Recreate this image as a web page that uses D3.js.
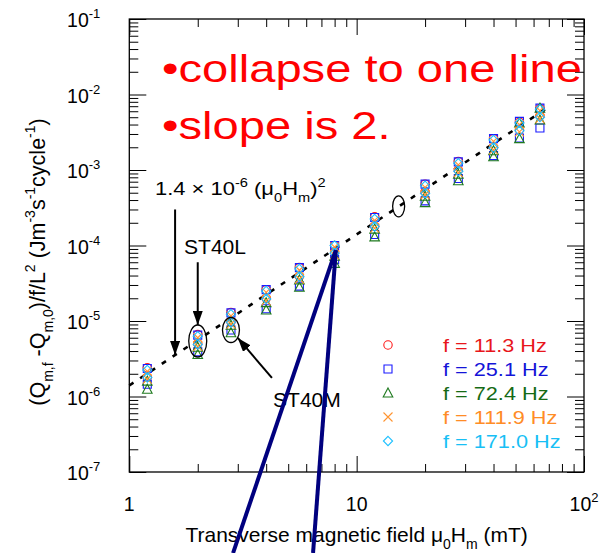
<!DOCTYPE html>
<html>
  <head>
    <meta charset="utf-8">
    <title>Loss collapse</title>
    <script src="https://d3js.org/d3.v7.min.js"></script>
    <style>
      body { margin: 0; background: #fff; }
      svg { font-family: "Liberation Sans", Arial, sans-serif; }
    </style>
  </head>
  <body>
    <div class="chart"></div>
    <script>
      /*
       * data
       */
      var fieldMT = [1.2, 2, 2.8, 4, 5.6, 8, 12, 20, 28, 40, 52, 64];

      // two samples per frequency (upper / lower point in each column)
      var f113 = [
        [2.4e-6, 6.6e-6, 1.3e-5, 2.6e-5, 5.1e-5, 1.0e-4, 2.4e-4, 6.5e-4, 1.3e-3, 2.6e-3, 4.3e-3, 6.5e-3],
        [1.8e-6, 5.0e-6, 9.8e-6, 2.0e-5, 3.9e-5, 8.2e-5, 1.8e-4, 5.1e-4, 1.0e-3, 2.0e-3, 3.4e-3, 5.2e-3]
      ];
      var f251 = [
        [2.35e-6, 6.5e-6, 1.28e-5, 2.6e-5, 5.1e-5, 1.0e-4, 2.35e-4, 6.5e-4, 1.28e-3, 2.6e-3, 4.4e-3, 6.6e-3],
        [1.45e-6, 3.9e-6, 7.6e-6, 1.45e-5, 2.9e-5, 6.5e-5, 1.4e-4, 3.9e-4, 7.7e-4, 1.55e-3, 2.65e-3, 3.6e-3]
      ];
      var f724 = [
        [1.6e-6, 4.5e-6, 8.8e-6, 1.75e-5, 3.5e-5, 7.2e-5, 1.65e-4, 4.5e-4, 8.8e-4, 1.8e-3, 4.2e-3, 6.6e-3],
        [1.25e-6, 3.6e-6, 7.0e-6, 1.4e-5, 2.8e-5, 5.8e-5, 1.3e-4, 3.7e-4, 7.2e-4, 1.5e-3, 2.6e-3, 4.6e-3]
      ];
      var f1119 = [
        [2.15e-6, 6.0e-6, 1.17e-5, 2.4e-5, 4.7e-5, 9.5e-5, 2.15e-4, 5.9e-4, 1.17e-3, 2.4e-3, 4.0e-3, 6.1e-3],
        [1.7e-6, 4.6e-6, 9.1e-6, 1.85e-5, 3.6e-5, 7.5e-5, 1.7e-4, 4.7e-4, 9.2e-4, 1.85e-3, 3.2e-3, 4.8e-3]
      ];
      var f1710 = [
        [2.25e-6, 6.3e-6, 1.23e-5, 2.5e-5, 4.9e-5, 1.0e-4, 2.25e-4, 6.2e-4, 1.23e-3, 2.5e-3, 4.2e-3, 6.4e-3],
        [1.78e-6, 4.9e-6, 9.6e-6, 1.95e-5, 3.85e-5, 7.9e-5, 1.78e-4, 4.9e-4, 9.6e-4, 1.97e-3, 3.3e-3, 5.0e-3]
      ];

      var legendLabels = ["f = 11.3 Hz", "f = 25.1 Hz", "f = 72.4 Hz", "f = 111.9 Hz", "f = 171.0 Hz"];

      // fit line 1.4e-6 * H^2
      var fitCoef = 1.4e-6;
      var fitRange = [1, 69];

      var xTickLabels = [{v: 1, base: "1", exp: ""}, {v: 10, base: "10", exp: ""}, {v: 100, base: "10", exp: "2"}];
      var yTickExps = ["-7", "-6", "-5", "-4", "-3", "-2", "-1"];

      /*
       * layout
       */
      var width = 605, height = 553;
      var mLeft = 129.3, mRight = 584, mTop = 19, mBottom = 472;

      var x = d3.scaleLog().domain([1, 100]).range([mLeft, mRight]);
      var y = d3.scaleLog().domain([1e-7, 1e-1]).range([mBottom, mTop]);

      var svg = d3.select(".chart").append("svg")
        .attr("width", width)
        .attr("height", height);

      function isMajor(d) {
        return Math.abs(Math.log10(d) - Math.round(Math.log10(d))) < 1e-6;
      }

      // stretch a text horizontally around its own anchor point
      function stretch(sel, k, ax, ay) {
        sel.attr("transform", "translate(" + ax + "," + ay + ") scale(" + k + ",1) translate(" + (-ax) + "," + (-ay) + ")");
        return sel;
      }

      // frame + inward ticks on all four sides
      svg.append("rect")
        .attr("x", mLeft).attr("y", mTop)
        .attr("width", mRight - mLeft).attr("height", mBottom - mTop)
        .attr("fill", "none").attr("stroke", "#000").attr("stroke-width", 1.3);

      var xt = x.ticks(), yt = y.ticks();

      svg.append("g").attr("transform", "translate(0," + mBottom + ")")
        .call(d3.axisBottom(x).tickValues(xt).tickFormat("").tickSizeOuter(0))
        .call(g => g.select(".domain").remove())
        .call(g => g.selectAll(".tick line").attr("y2", d => isMajor(d) ? -16 : -8));
      svg.append("g").attr("transform", "translate(0," + mTop + ")")
        .call(d3.axisTop(x).tickValues(xt).tickFormat("").tickSizeOuter(0))
        .call(g => g.select(".domain").remove())
        .call(g => g.selectAll(".tick line").attr("y2", d => isMajor(d) ? 16 : 8));
      svg.append("g").attr("transform", "translate(" + mLeft + ",0)")
        .call(d3.axisLeft(y).tickValues(yt).tickFormat("").tickSizeOuter(0))
        .call(g => g.select(".domain").remove())
        .call(g => g.selectAll(".tick line").attr("x2", d => isMajor(d) ? 17 : 9));
      svg.append("g").attr("transform", "translate(" + mRight + ",0)")
        .call(d3.axisRight(y).tickValues(yt).tickFormat("").tickSizeOuter(0))
        .call(g => g.select(".domain").remove())
        .call(g => g.selectAll(".tick line").attr("x2", d => isMajor(d) ? -17 : -9));

      // tick labels
      var xl = svg.append("g").attr("font-size", 19.5).attr("text-anchor", "middle");
      xTickLabels.forEach(function(t) {
        var tx = xl.append("text").attr("x", x(t.v)).attr("y", mBottom + 39);
        tx.append("tspan").text(t.base);
        if (t.exp) tx.append("tspan").attr("font-size", 13).attr("dy", -9).text(t.exp);
      });

      var yl = svg.append("g").attr("font-size", 19.5).attr("text-anchor", "end");
      yTickExps.forEach(function(e) {
        var ty = yl.append("text").attr("x", mLeft - 29).attr("y", y(Math.pow(10, +e)) + 8);
        ty.append("tspan").text("10");
        ty.append("tspan").attr("font-size", 13).attr("dy", -9).text(e);
      });

      // axis titles
      var xtitle = svg.append("text")
        .attr("x", x(10)).attr("y", 542)
        .attr("text-anchor", "middle").attr("font-size", 21);
      xtitle.append("tspan").text("Transverse magnetic field \u03bc");
      xtitle.append("tspan").attr("font-size", 14).attr("dy", 7).text("0");
      xtitle.append("tspan").attr("dy", -7).text("H");
      xtitle.append("tspan").attr("font-size", 14).attr("dy", 7).text("m");
      xtitle.append("tspan").attr("dy", -7).text(" (mT)");

      var ytitle = svg.append("text")
        .attr("transform", "translate(45,262) rotate(-90)")
        .attr("text-anchor", "middle").attr("font-size", 21.5);
      var yparts = [
        ["(Q", 0], ["m,f", 1], [" -Q", 0], ["m,0", 1], [")/f/L", 0], ["2", -1],
        [" (Jm", 0], ["-3", -1], ["s", 0], ["-1", -1], ["cycle", 0], ["-1", -1], [")", 0]
      ];
      var prev = 0;
      yparts.forEach(function(p) {
        var shift = p[1] === 1 ? 8 : p[1] === -1 ? -10 : 0;
        ytitle.append("tspan")
          .attr("dy", shift - prev)
          .attr("font-size", p[1] === 0 ? 21.5 : 14)
          .text(p[0]);
        prev = shift;
      });

      // fit line
      var fitLine = d3.line()
        .x(d => x(d))
        .y(d => y(fitCoef * d * d));
      svg.append("path")
        .datum(fitRange)
        .attr("d", fitLine)
        .attr("fill", "none").attr("stroke", "#000")
        .attr("stroke-width", 2.6).attr("stroke-dasharray", "5,8");

      /*
       * markers
       */
      var series = [
        {vals: f113, color: "#ff1a1a", text: "#e8161b", shape: "circle"},
        {vals: f251, color: "#1a1aff", text: "#1414d8", shape: "square"},
        {vals: f724, color: "#1f7a1f", text: "#156a15", shape: "triangle"},
        {vals: f1119, color: "#ff9430", text: "#ff8c26", shape: "cross"},
        {vals: f1710, color: "#1ec0ff", text: "#18bff5", shape: "diamond"}
      ];

      function shapePath(shape) {
        switch (shape) {
          case "circle": return "M4.2,0A4.2,4.2 0 1,1 -4.2,0A4.2,4.2 0 1,1 4.2,0Z";
          case "square": return "M-4,-4H4V4H-4Z";
          case "triangle": return "M0,-5L4.8,4L-4.8,4Z";
          case "cross": return "M-4.5,-4.5L4.5,4.5M-4.5,4.5L4.5,-4.5";
          case "diamond": return "M0,-4.6L4.6,0L0,4.6L-4.6,0Z";
        }
      }

      var points = svg.append("g");
      series.forEach(function(s) {
        s.vals.forEach(function(sample) {
          points.selectAll(null)
            .data(sample.map((v, i) => [fieldMT[i], v]))
            .enter().append("path")
              .attr("transform", d => "translate(" + x(d[0]) + "," + y(d[1]) + ")")
              .attr("d", shapePath(s.shape))
              .attr("fill", "none")
              .attr("stroke", s.color)
              .attr("stroke-width", 1.1);
        });
      });

      // legend
      var legend = svg.append("g");
      series.forEach(function(s, i) {
        var ly = 345 + i * 24;
        legend.append("path")
          .attr("transform", "translate(388," + ly + ")")
          .attr("d", shapePath(s.shape))
          .attr("fill", "none").attr("stroke", s.color).attr("stroke-width", 1.1);
        var lt = legend.append("text")
          .attr("x", 443).attr("y", ly + 7)
          .attr("font-size", 17.5).attr("fill", s.text)
          .text(legendLabels[i]);
        stretch(lt, 1.24, 443, ly + 7);
      });

      /*
       * annotations (anchored in data units)
       */
      svg.append("defs").append("marker")
        .attr("id", "arrow")
        .attr("viewBox", "0 0 14 10").attr("refX", 14).attr("refY", 5)
        .attr("markerWidth", 14).attr("markerHeight", 10)
        .attr("markerUnits", "userSpaceOnUse")
        .attr("orient", "auto")
        .append("path").attr("d", "M0,0L14,5L0,10Z").attr("fill", "#000");

      var arrows = [
        {from: [1.59, 3.0e-4], to: [1.59, 3.54e-6]},
        {from: [2.0, 6.0e-5], to: [2.0, 8.85e-6]},
        {from: [4.24, 1.76e-6], to: [3.0, 5.96e-6]}
      ];
      arrows.forEach(function(a) {
        svg.append("line")
          .attr("x1", x(a.from[0])).attr("y1", y(a.from[1]))
          .attr("x2", x(a.to[0])).attr("y2", y(a.to[1]))
          .attr("stroke", "#000").attr("stroke-width", 2)
          .attr("marker-end", "url(#arrow)");
      });

      var rings = [
        {c: [2.0, 5.43e-6], rx: 9, ry: 16},
        {c: [2.8, 7.6e-6], rx: 8.5, ry: 12.5},
        {c: [15.3, 3.3e-4], rx: 6, ry: 10.5}
      ];
      rings.forEach(function(r) {
        svg.append("ellipse")
          .attr("cx", x(r.c[0])).attr("cy", y(r.c[1]))
          .attr("rx", r.rx).attr("ry", r.ry)
          .attr("fill", "none").attr("stroke", "#000").attr("stroke-width", 1.3);
      });

      var formula = svg.append("text").attr("x", 155).attr("y", 195).attr("font-size", 18);
      formula.append("tspan").text("1.4 \u00d7 10");
      formula.append("tspan").attr("font-size", 12).attr("dy", -8).text("-6");
      formula.append("tspan").attr("dy", 8).text(" (\u03bc");
      formula.append("tspan").attr("font-size", 12).attr("dy", 7).text("0");
      formula.append("tspan").attr("dy", -7).text("H");
      formula.append("tspan").attr("font-size", 12).attr("dy", 7).text("m");
      formula.append("tspan").attr("dy", -7).text(")");
      formula.append("tspan").attr("font-size", 12).attr("dy", -8).text("2");
      stretch(formula, 1.22, 155, 195);

      stretch(svg.append("text").attr("x", 184).attr("y", 254).attr("font-size", 19.5).text("ST40L"), 1.08, 184, 254);
      stretch(svg.append("text").attr("x", 273).attr("y", 407).attr("font-size", 19.5).text("ST40M"), 1.08, 273, 407);

      var red1 = svg.append("text").attr("x", 162).attr("y", 82).attr("font-size", 38)
        .attr("fill", "#ff0000").text("\u2022collapse to one line");
      stretch(red1, 1.24, 162, 82);
      var red2 = svg.append("text").attr("x", 162).attr("y", 139).attr("font-size", 38)
        .attr("fill", "#ff0000").text("\u2022slope is 2.");
      stretch(red2, 1.24, 162, 139);

      // callout lines
      var callApex = [8.1, 8.7e-5];
      var callFeet = [[2.86, 8.45e-9], [6.43, 8.45e-9]];
      callFeet.forEach(function(f) {
        svg.append("line")
          .attr("x1", x(callApex[0])).attr("y1", y(callApex[1]))
          .attr("x2", x(f[0])).attr("y2", y(f[1]))
          .attr("stroke", "#00007f").attr("stroke-width", 4);
      });
    </script>
  </body>
</html>
